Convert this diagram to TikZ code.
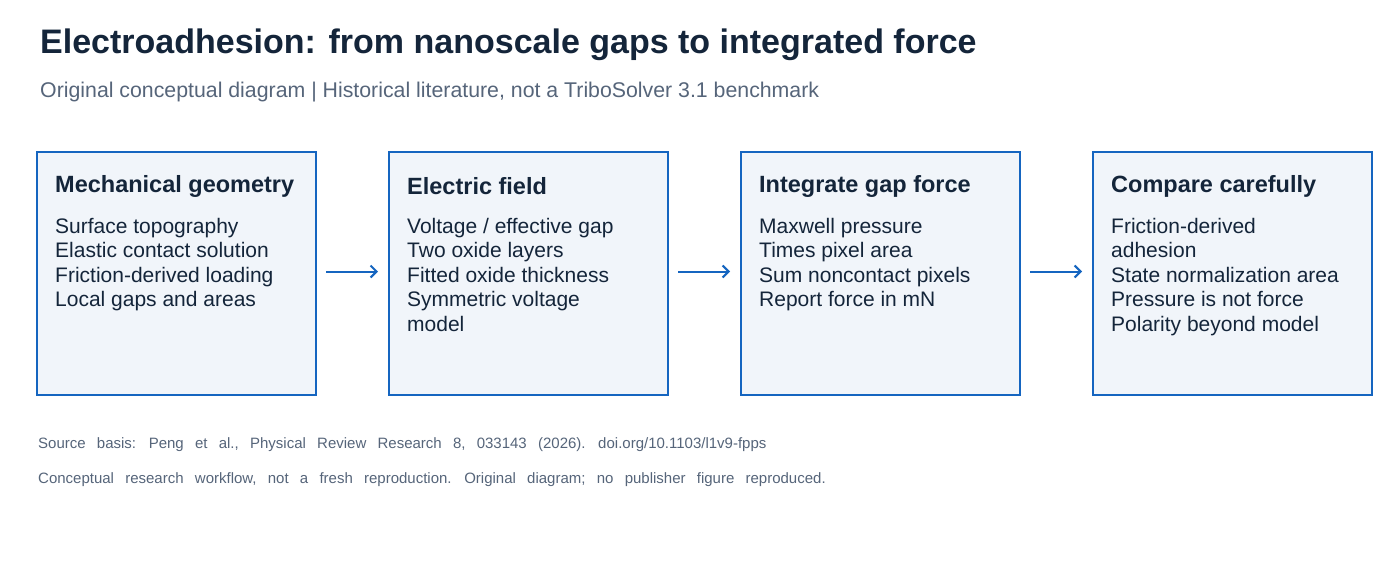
\documentclass[tikz,border=0pt]{standalone}
\usepackage{fontspec}
\setmainfont{Liberation Sans}
\usetikzlibrary{arrows.meta, positioning}
\definecolor{boxblue}{HTML}{1565C0}
\definecolor{boxfill}{HTML}{F1F5FA}
\definecolor{inkdark}{HTML}{14253A}
\definecolor{inkgray}{HTML}{56657A}
\newcommand{\widespace}{\spaceskip=0.75em\relax}
\begin{document}
\begin{tikzpicture}[x=1pt, y=1pt, >={Straight Barb[length=6pt,width=12pt]},
    stage/.style={draw=boxblue, line width=2pt, fill=boxfill, minimum width=279pt, minimum height=243pt, inner sep=0pt},
    head/.style={anchor=west, font=\fontsize{23.5}{27}\selectfont\bfseries, text=inkdark, inner sep=0pt},
    body/.style={anchor=north west, align=left, font=\fontsize{21}{24.5}\selectfont, text=inkdark, inner sep=0pt},
    flow/.style={draw=boxblue, line width=2pt, ->, shorten <=9pt, shorten >=10pt},
    note/.style={anchor=west, font=\fontsize{15}{17}\selectfont, text=inkgray, inner sep=0pt}]
    % Canvas
    \useasboundingbox[fill=white] (0,0) rectangle (1400,-560);

    % Heading
    \node[anchor=west, font=\fontsize{34}{38}\selectfont\bfseries, text=inkdark, inner sep=0pt] (title) at (40,-45) {Electroadhesion: from nanoscale gaps to integrated force};
    \node[anchor=west, font=\fontsize{21.3}{24}\selectfont, text=inkgray, inner sep=0pt] (subtitle) at (40,-92) {Original conceptual diagram | Historical literature, not a TriboSolver 3.1 benchmark};

    % Stages
    \node[stage, anchor=north west] (geom) at (36,-151) {};
    \node[stage, right=71pt of geom] (field) {};
    \node[stage, right=71pt of field] (integ) {};
    \node[stage, right=71pt of integ] (comp) {};

    \node[head] (geomhead) at ([xshift=19pt, yshift=-35pt]geom.north west) {Mechanical geometry};
    \node[head] (fieldhead) at ([xshift=19pt, yshift=-35pt]field.north west) {Electric field};
    \node[head] (integhead) at ([xshift=19pt, yshift=-35pt]integ.north west) {Integrate gap force};
    \node[head] (comphead) at ([xshift=19pt, yshift=-35pt]comp.north west) {Compare carefully};

    \node[body] (geombody) at ([xshift=19pt, yshift=-67pt]geom.north west) {Surface topography\\Elastic contact solution\\Friction-derived loading\\Local gaps and areas};
    \node[body] (fieldbody) at ([xshift=19pt, yshift=-67pt]field.north west) {Voltage / effective gap\\Two oxide layers\\Fitted oxide thickness\\Symmetric voltage\\model};
    \node[body] (integbody) at ([xshift=19pt, yshift=-67pt]integ.north west) {Maxwell pressure\\Times pixel area\\Sum noncontact pixels\\Report force in mN};
    \node[body] (compbody) at ([xshift=19pt, yshift=-67pt]comp.north west) {Friction-derived\\adhesion\\State normalization area\\Pressure is not force\\Polarity beyond model};

    % Arrows
    \draw[flow] ([yshift=2pt]geom.east) -- ([yshift=2pt]field.west);
    \draw[flow] ([yshift=2pt]field.east) -- ([yshift=2pt]integ.west);
    \draw[flow] ([yshift=2pt]integ.east) -- ([yshift=2pt]comp.west);

    % Notes
    \node[note] (source) at (38,-445) {\widespace Source basis: Peng et al., Physical Review Research 8, 033143 (2026). doi.org/10.1103/l1v9-fpps};
    \node[note] (caveat) at (38,-480) {\widespace Conceptual research workflow, not a fresh reproduction. Original diagram; no publisher figure reproduced.};
\end{tikzpicture}
\end{document}
